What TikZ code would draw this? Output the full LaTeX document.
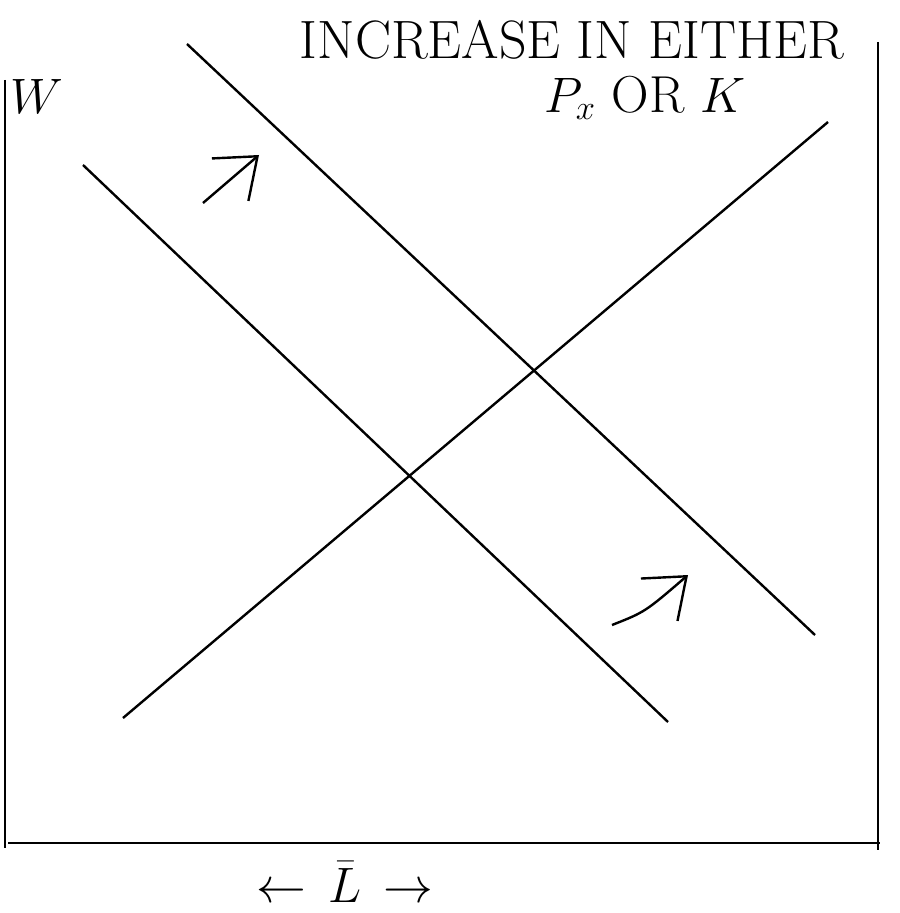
\documentclass[tikz,border=0pt]{standalone}
\usepackage{amsmath}
\usepackage{amssymb}
\usetikzlibrary{arrows.meta}

\begin{document}
\begin{tikzpicture}[x=0.5pt,y=-0.5pt]
				\useasboundingbox (0,0) rectangle (899,913);
				% axes
				\draw[black, line width=1.4pt] (5,80) -- (5,848);
				\draw[black, line width=1.4pt] (878,42) -- (878,850);
				\draw[black, line width=1.4pt] (8,843) -- (880,843);
				% demand curves and supply curve
				\draw[black, line width=1.2pt] (83,165) -- (668,722);
				\draw[black, line width=1.2pt] (187,44) -- (815,635);
				\draw[black, line width=1.2pt] (123,718) -- (828,122);
				% shift arrows
				\draw[black, line width=1.2pt,-{Straight Barb[length=18pt,width=28pt]}] (203,203) -- (259,155);
				\draw[black, line width=1.2pt,-{Straight Barb[length=18pt,width=28pt]}] (612,625) .. controls (645,612) .. (688,575);
				\node at (37,97) {\fontsize{28}{32}\selectfont $W$};
				\node at (572,40) {\fontsize{27}{32}\selectfont INCREASE IN EITHER};
				\node at (645,98) {\fontsize{26}{30}\selectfont $P_x$ OR $K$};
				\node at (345,882) {\fontsize{24}{28}\selectfont $\leftarrow\,\bar{L}\,\rightarrow$};
			\end{tikzpicture}
\end{document}
